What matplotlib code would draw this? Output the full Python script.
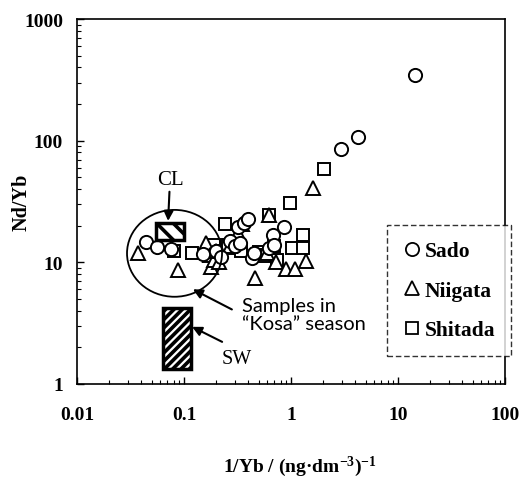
import matplotlib
matplotlib.use("Agg")
import matplotlib.pyplot as plt
from matplotlib.patches import Rectangle, Ellipse
from matplotlib.lines import Line2D

plt.rcParams['font.family'] = ['Liberation Serif', 'DejaVu Serif']
plt.rcParams['mathtext.fontset'] = 'custom'
plt.rcParams['mathtext.rm'] = 'Liberation Serif:bold'
plt.rcParams['mathtext.it'] = 'Liberation Serif:bold'
plt.rcParams['mathtext.bf'] = 'Liberation Serif:bold'
plt.rcParams['hatch.linewidth'] = 2.6

# ---- data ----
sado_x = [0.044, 0.056, 0.076, 0.15, 0.20, 0.22, 0.27, 0.30, 0.32, 0.33, 0.36, 0.40,
          0.43, 0.45, 0.62, 0.68, 0.70, 0.86, 2.9, 4.2, 14.4]
sado_y = [14.7, 13.4, 12.9, 11.8, 12.5, 11.0, 15.0, 13.5, 19.5, 14.5, 21.0, 22.5,
          10.8, 12.0, 13.0, 16.8, 14.0, 19.5, 86, 107, 345]

niigata_x = [0.037, 0.087, 0.16, 0.175, 0.18, 0.19, 0.20, 0.21, 0.27, 0.32, 0.35,
             0.46, 0.55, 0.60, 0.62, 0.72, 0.90, 1.08, 1.38, 1.6]
niigata_y = [11.9, 8.7, 14.5, 11.5, 9.2, 10.5, 12.5, 10.0, 13.5, 17.5, 20.5,
             7.4, 11.5, 12.0, 24.5, 10.1, 8.8, 8.8, 10.2, 41]

shitada_x = [0.08, 0.12, 0.19, 0.21, 0.22, 0.24, 0.26, 0.30, 0.34, 0.50, 0.58,
             0.62, 0.70, 0.74, 0.97, 1.02, 1.30, 1.30, 2.05]
shitada_y = [12.5, 12.0, 14.0, 11.5, 12.5, 20.5, 14.0, 13.0, 12.5, 12.2, 11.5,
             24.5, 13.5, 10.5, 31, 13.0, 13.0, 16.8, 59]

# reference ranges (x range, y range)
cl_x = [0.055, 0.10]
cl_y = [15.3, 21.1]
sw_x = [0.064, 0.116]
sw_y = [1.33, 4.22]

xticks = [0.01, 0.1, 1, 10, 100]
xtick_labels = ['0.01', '0.1', '1', '10', '100']
yticks = [1, 10, 100, 1000]
ytick_labels = ['1', '10', '100', '1000']

# ---- figure ----
fig = plt.figure(figsize=(5.19, 4.81), dpi=100)
ax = fig.add_axes([0.1484, 0.1996, 0.8247, 0.7588])
ax.set_xscale('log')
ax.set_yscale('log')
ax.set_xlim(0.01, 100)
ax.set_ylim(1, 1000)

mk = dict(linestyle='none', markerfacecolor='white', markeredgecolor='black',
          markeredgewidth=1.4, zorder=3)
ax.plot(shitada_x, shitada_y, marker='s', markersize=8.5, **mk)
ax.plot(niigata_x, niigata_y, marker='^', markersize=9.5, **mk)
ax.plot(sado_x, sado_y, marker='o', markersize=9.5, **mk)

# hatched reference boxes
ax.add_patch(Rectangle((cl_x[0], cl_y[0]), cl_x[1] - cl_x[0], cl_y[1] - cl_y[0],
                       facecolor='white', edgecolor='black', hatch='\\\\',
                       linewidth=2.5, zorder=5))
ax.add_patch(Rectangle((sw_x[0], sw_y[0]), sw_x[1] - sw_x[0], sw_y[1] - sw_y[0],
                       facecolor='white', edgecolor='black', hatch='////',
                       linewidth=2.5, zorder=5))

# ellipse around Kosa samples (axes fraction)
ax.add_patch(Ellipse((0.2278, 0.358), 0.222, 0.238, transform=ax.transAxes,
                     facecolor='none', edgecolor='black', linewidth=1.3, zorder=4))

arr = dict(arrowstyle='-|>', color='black', lw=1.5, mutation_scale=14,
           shrinkA=0, shrinkB=0)
ax.annotate('CL', xy=(0.071, 21.9), xytext=(0.074, 48), ha='center', va='center',
            fontsize=15, arrowprops=arr, zorder=6)
ax.annotate('', xy=(0.121, 6.0), xytext=(0.28, 4.1), arrowprops=arr, zorder=6)
ax.annotate('', xy=(0.119, 2.95), xytext=(0.227, 2.22), arrowprops=arr, zorder=6)
ax.text(0.345, 3.75, 'Samples in\n\u201cKosa\u201d season', fontsize=14.5,
        family=['Lato', 'DejaVu Sans'], ha='left', va='center', linespacing=1.05)
ax.text(0.225, 1.62, 'SW', fontsize=14.5, ha='left', va='center')

ax.set_xticks(xticks)
ax.set_xticklabels(xtick_labels)
ax.set_yticks(yticks)
ax.set_yticklabels(ytick_labels)
ax.tick_params(which='both', direction='in')
ax.tick_params(which='major', length=5, width=1)
ax.tick_params(which='minor', length=3, width=0.8)
ax.tick_params(axis='x', which='major', pad=16)
ax.tick_params(axis='y', which='major', pad=10)
for lbl in ax.get_xticklabels() + ax.get_yticklabels():
    lbl.set_fontweight('bold')
    lbl.set_fontsize(14)
for s in ax.spines.values():
    s.set_linewidth(1.2)

ax.set_xlabel('1/Yb / (ng\u00b7dm$^{-3}$)$^{-1}$', fontsize=14, fontweight='bold')
ax.xaxis.set_label_coords(0.52, -0.19)
ax.set_ylabel('Nd/Yb', fontsize=14.5, fontweight='bold')
ax.yaxis.set_label_coords(-0.107, 0.5)

handles = [
    Line2D([], [], marker='o', markersize=9.5, linestyle='none', markerfacecolor='white',
           markeredgecolor='black', markeredgewidth=1.3, label='Sado'),
    Line2D([], [], marker='^', markersize=9.5, linestyle='none', markerfacecolor='white',
           markeredgecolor='black', markeredgewidth=1.3, label='Niigata'),
    Line2D([], [], marker='s', markersize=9, linestyle='none', markerfacecolor='white',
           markeredgecolor='black', markeredgewidth=1.3, label='Shitada'),
]
leg = ax.legend(handles=handles, loc='upper left', bbox_to_anchor=(0.724, 0.435),
                prop={'family': 'Liberation Serif', 'weight': 'bold', 'size': 15.5},
                frameon=True, fancybox=False, borderpad=0.75, labelspacing=0.9,
                handlelength=0.8, handletextpad=0.2, borderaxespad=0)
fr = leg.get_frame()
fr.set_edgecolor('black')
fr.set_linestyle((0, (4, 2)))
fr.set_linewidth(1.0)
leg.set_zorder(10)

fig.savefig('out.png', dpi=100)
